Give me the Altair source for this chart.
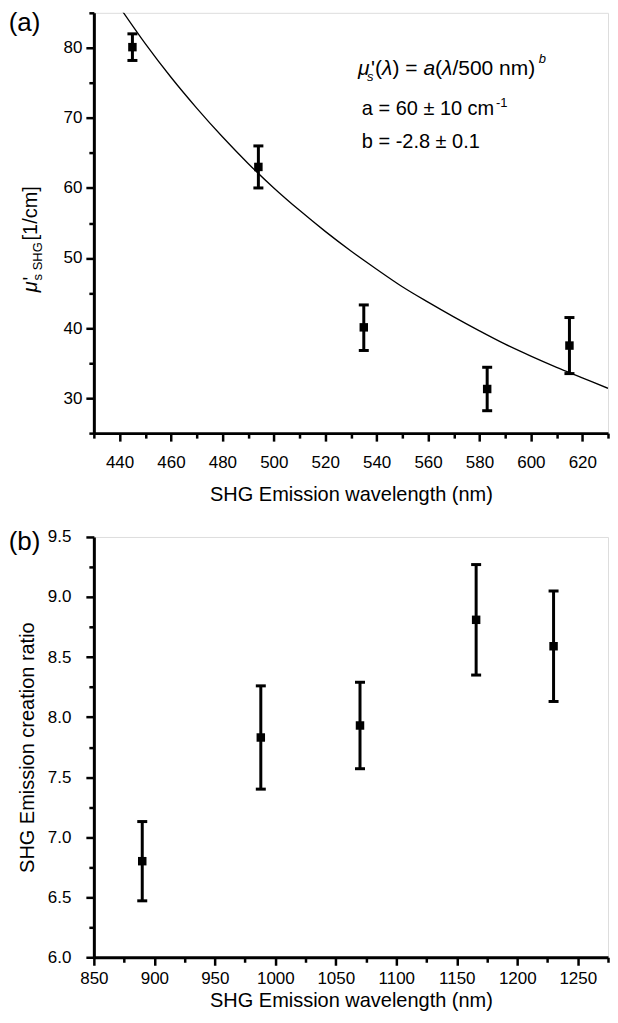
import altair as alt
import pandas as pd

# ---------------- panel (a) data ----------------
wl_a = [445, 494, 535, 583, 615]
mu_a = [80.1, 63.0, 40.1, 31.3, 37.5]
mu_a_lo = [78.2, 60.0, 36.8, 28.2, 33.5]
mu_a_hi = [82.0, 66.0, 43.3, 34.4, 41.5]

fit_wl = [441, 450, 460, 470, 480, 490, 500, 510, 520, 530, 540, 550, 560, 570, 580, 590, 600, 610, 620, 630]
fit_mu = [85.3, 80.6, 75.8, 71.4, 67.3, 63.5, 60.0, 56.8, 53.8, 51.0, 48.4, 45.9, 43.7, 41.6, 39.6, 37.7, 36.0, 34.4, 32.9, 31.4]

x_ticks_a = list(range(430, 631, 10))
y_ticks_a = list(range(25, 86, 5))

# ---------------- panel (b) data ----------------
wl_b = [890, 988, 1070, 1166, 1230]
ratio_b = [6.80, 7.83, 7.93, 8.81, 8.59]
ratio_b_lo = [6.47, 7.40, 7.57, 8.35, 8.13]
ratio_b_hi = [7.13, 8.26, 8.29, 9.27, 9.05]

x_ticks_b = list(range(850, 1276, 25))
y_ticks_b = [6.0, 6.25, 6.5, 6.75, 7.0, 7.25, 7.5, 7.75, 8.0, 8.25, 8.5, 8.75, 9.0, 9.25, 9.5]

FONT = "Liberation Sans"
W = 515
H_A = 421
H_B = 421

df_a = pd.DataFrame({"wl": wl_a, "mu": mu_a, "lo": mu_a_lo, "hi": mu_a_hi})
df_fit = pd.DataFrame({"wl": fit_wl, "mu": fit_mu})
df_b = pd.DataFrame({"wl": wl_b, "r": ratio_b, "lo": ratio_b_lo, "hi": ratio_b_hi})
df_one = pd.DataFrame({"k": [0]})


def make_axis(values, test, fmt, title, label_pad, title_pad):
    return alt.Axis(
        values=values,
        format=fmt,
        labelExpr=f"({test}) ? datum.label : ''",
        tickSize={"condition": {"test": test, "value": 8}, "value": 5},
        labelFontSize={"condition": {"test": test, "value": 17}, "value": 1},
        tickWidth=2.5,
        tickColor="black",
        domainColor="black",
        domainWidth=3,
        labelFont=FONT,
        labelColor="black",
        labelPadding=label_pad,
        labelOverlap=False,
        labelFlush=False,
        grid=False,
        title=title,
        titleFont=FONT,
        titleFontSize=20,
        titleFontWeight="normal",
        titleColor="black",
        titlePadding=title_pad,
    )


# ---------------- panel (a) ----------------
xs_a = alt.Scale(domain=[430, 630], nice=False, zero=False)
ys_a = alt.Scale(domain=[25, 85], nice=False, zero=False)
xa = make_axis(x_ticks_a, "datum.value % 20 === 0", "d", "SHG Emission wavelength (nm)", 13, 14)
ya = make_axis(y_ticks_a, "datum.value % 10 === 0", "d", "", 4, 0)

X_A = alt.X("wl:Q", scale=xs_a, axis=xa)

bars_a = alt.Chart(df_a).mark_rule(color="black", strokeWidth=3).encode(
    x=X_A, y=alt.Y("lo:Q", scale=ys_a, axis=ya), y2="hi:Q")
cap_lo_a = alt.Chart(df_a).mark_tick(color="black", orient="horizontal", size=10, thickness=3, opacity=1).encode(
    x=X_A, y=alt.Y("lo:Q", scale=ys_a, axis=ya))
cap_hi_a = alt.Chart(df_a).mark_tick(color="black", orient="horizontal", size=10, thickness=3, opacity=1).encode(
    x=X_A, y=alt.Y("hi:Q", scale=ys_a, axis=ya))
pts_a = alt.Chart(df_a).mark_square(color="black", size=72, opacity=1).encode(
    x=X_A, y=alt.Y("mu:Q", scale=ys_a, axis=ya))
fit_a = alt.Chart(df_fit).mark_line(color="black", strokeWidth=1.3, clip=True, interpolate="monotone").encode(
    x=X_A, y=alt.Y("mu:Q", scale=ys_a, axis=ya))


def txt(s, x, y, size=20, italic=False, angle=None, baseline="alphabetic"):
    kw = dict(text=s, font=FONT, fontSize=size, color="black", align="left", baseline=baseline)
    if italic:
        kw["fontStyle"] = "italic"
    if angle is not None:
        kw["angle"] = angle
    return alt.Chart(df_one).mark_text(**kw).encode(x=alt.value(x), y=alt.value(y))


OX = 93.3  # image x of the plot's left edge
OY = 13.0  # image y of panel (a) top

ann_a = [
    txt("(a)", 8 - OX, -3, size=26, baseline="top"),
    # formula line
    txt("μ", 358 - OX, 75 - OY, size=21, italic=True),
    txt("s", 367 - OX, 81 - OY, size=13, italic=True),
    txt("'(", 371 - OX, 75 - OY, size=21),
    txt("λ", 382 - OX, 75 - OY, size=21, italic=True),
    txt(") = ", 392.5 - OX, 75 - OY, size=21),
    txt("a", 423.5 - OX, 75 - OY, size=21, italic=True),
    txt("(", 435 - OX, 75 - OY, size=21),
    txt("λ", 442 - OX, 75 - OY, size=21, italic=True),
    txt("/500 nm)", 452.5 - OX, 75 - OY, size=21),
    txt("b", 539 - OX, 63 - OY, size=13, italic=True),
    # parameters
    txt("a = 60 ± 10 cm", 361.7 - OX, 115 - OY),
    txt("-1", 496 - OX, 107 - OY, size=13),
    txt("b = -2.8 ± 0.1", 361.7 - OX, 148 - OY),
    # y-axis title (rotated)
    txt("μ", 36 - OX, 293 - OY, italic=True, angle=270),
    txt("'", 36 - OX, 281 - OY, angle=270),
    txt("s SHG", 41 - OX, 281 - OY, size=13, angle=270),
    txt("[1/cm]", 36 - OX, 241 - OY, angle=270),
]

panel_a = alt.layer(bars_a, cap_lo_a, cap_hi_a, pts_a, fit_a, *ann_a).properties(width=W, height=H_A)

# ---------------- panel (b) ----------------
xs_b = alt.Scale(domain=[850, 1275], nice=False, zero=False)
ys_b = alt.Scale(domain=[6.0, 9.5], nice=False, zero=False)
xb = make_axis(x_ticks_b, "datum.value % 50 === 0", "d", "SHG Emission wavelength (nm)", 5, 4)
yb = make_axis(y_ticks_b, "abs(datum.value * 2 - round(datum.value * 2)) < 0.001", ".1f",
               "SHG Emission creation ratio", 15, 10)

X_B = alt.X("wl:Q", scale=xs_b, axis=xb)

bars_b = alt.Chart(df_b).mark_rule(color="black", strokeWidth=3).encode(
    x=X_B, y=alt.Y("lo:Q", scale=ys_b, axis=yb), y2="hi:Q")
cap_lo_b = alt.Chart(df_b).mark_tick(color="black", orient="horizontal", size=10, thickness=3, opacity=1).encode(
    x=X_B, y=alt.Y("lo:Q", scale=ys_b, axis=yb))
cap_hi_b = alt.Chart(df_b).mark_tick(color="black", orient="horizontal", size=10, thickness=3, opacity=1).encode(
    x=X_B, y=alt.Y("hi:Q", scale=ys_b, axis=yb))
pts_b = alt.Chart(df_b).mark_square(color="black", size=72, opacity=1).encode(
    x=X_B, y=alt.Y("r:Q", scale=ys_b, axis=yb))
lab_b = txt("(b)", 8 - OX, 530 - 538, size=26, baseline="top")

panel_b = alt.layer(bars_b, cap_lo_b, cap_hi_b, pts_b, lab_b).properties(width=W, height=H_B)

chart = alt.vconcat(panel_a, panel_b, spacing=104, bounds="flush").properties(
    padding={"left": 0, "top": 0, "right": 0, "bottom": 0},
    autosize=alt.AutoSizeParams(type="pad"),
).configure_view(strokeWidth=0).configure(background="white")

chart.save("out.html", embed_options={"renderer": "svg", "actions": False})
